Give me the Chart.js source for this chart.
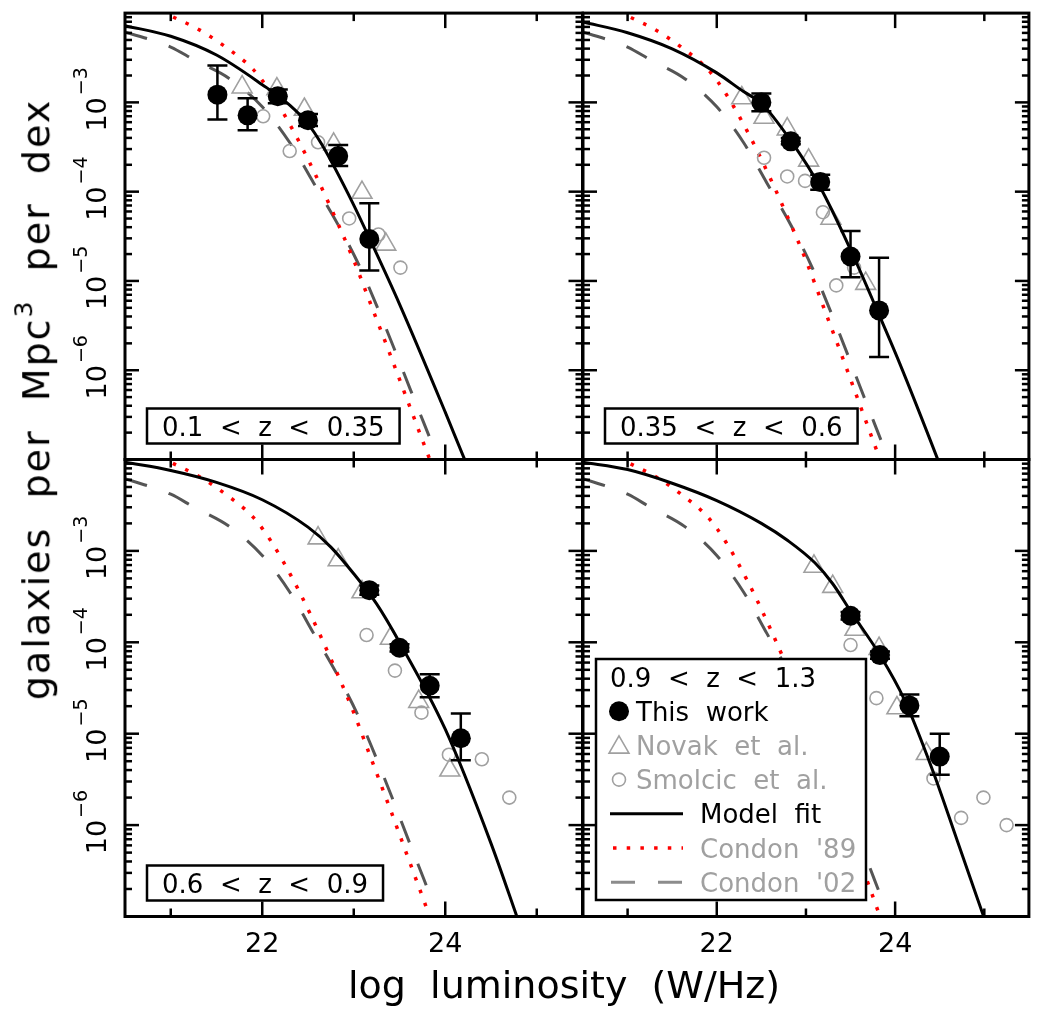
<!DOCTYPE html>
<html>
<head>
<meta charset="utf-8">
<title>Radio luminosity functions in four redshift bins</title>
<script src="https://cdn.jsdelivr.net/npm/chart.js@4.4.1/dist/chart.umd.min.js"></script>
<style>
  html, body { margin:0; padding:0; background:#ffffff; }
  #wrap { position:relative; width:1042px; height:1011px; overflow:hidden; background:#ffffff; }
  #wrap canvas { position:absolute; left:0; top:0; }
  .ttl { position:absolute; font-family:"DejaVu Sans", sans-serif; font-size:38px; line-height:38px; color:#000; white-space:pre; }
  #ytitle { letter-spacing:2px; }
  .sup { font-size:25px; position:relative; top:-17px; }
</style>
</head>
<body>
<div id="wrap">
  <canvas id="p0" width="1042" height="1011"></canvas>
  <canvas id="p1" width="1042" height="1011"></canvas>
  <canvas id="p2" width="1042" height="1011"></canvas>
  <canvas id="p3" width="1042" height="1011"></canvas>
  <div id="xtitle" class="ttl">log  luminosity  (W/Hz)</div>
  <div id="ytitle" class="ttl">galaxies  per  Mpc<span class="sup">3</span>  per  dex</div>
</div>
<script>
// ---------- axes ----------
const xMin = 20.5, xMax = 25.5;
const yMin = 1e-7, yMax = 1e-2;
const xMajorTicks = [22, 24];
const xMinorTicks = [21, 23, 25];
const xTickLabels = ['22', '24'];
const yLabelValues = [1e-3, 1e-4, 1e-5, 1e-6];
const yLabelExponents = ['\u22123', '\u22124', '\u22125', '\u22126'];

// ---------- redshift bins ----------
const binLabels = ['0.1  <  z  <  0.35', '0.35  <  z  <  0.6', '0.6  <  z  <  0.9', '0.9  <  z  <  1.3'];
const seriesNames = ['This work', 'Novak et al.', 'Smolcic et al.', 'Model fit', "Condon '89", "Condon '02"];

// ---------- local luminosity functions (identical in all panels) ----------
const condon89X = [20.5, 21.0, 21.3, 21.6, 21.9, 22.1, 22.34, 22.52, 22.74, 23.0, 23.2, 23.4, 23.58, 23.82, 24.0];
const condon89Y = [1.78e-2, 9.33e-3, 6.61e-3, 4.17e-3, 2.34e-3, 1.26e-3, 4.79e-4, 2.09e-4, 6.92e-5, 1.70e-5, 5.01e-6, 1.48e-6, 4.79e-7, 1.07e-7, 3.55e-8];
const condon02X = [20.5, 21.0, 21.25, 21.65, 22.0, 22.3, 22.56, 22.85, 23.07, 23.36, 23.62, 23.84];
const condon02Y = [6.17e-3, 4.17e-3, 3.02e-3, 1.82e-3, 8.91e-4, 3.55e-4, 1.26e-4, 3.89e-5, 1.41e-5, 2.82e-6, 6.03e-7, 1.66e-7];

// ---------- model fits ----------
const model1X = [20.5, 21.0, 21.5, 22.0, 22.3, 22.5, 22.65, 23.0, 23.17, 23.5, 24.0, 24.2, 24.4];
const model1Y = [7.24e-3, 5.50e-3, 3.39e-3, 1.58e-3, 9.33e-4, 5.75e-4, 3.39e-4, 7.08e-5, 3.02e-5, 5.50e-6, 3.39e-7, 1.07e-7, 3.55e-8];
const model2X = [20.5, 21.0, 21.5, 22.0, 22.3, 22.5, 22.83, 23.16, 23.5, 23.82, 24.05, 24.47, 24.6];
const model2Y = [7.94e-3, 6.03e-3, 3.98e-3, 2.14e-3, 1.32e-3, 9.77e-4, 3.72e-4, 1.12e-4, 2.24e-5, 4.17e-6, 1.20e-6, 1.05e-7, 4.79e-8];
const model3X = [20.5, 21.0, 21.5, 22.0, 22.5, 22.75, 23.0, 23.25, 23.5, 24.0, 24.5, 24.8];
const model3Y = [9.33e-3, 7.59e-3, 5.62e-3, 3.63e-3, 1.82e-3, 1.10e-3, 5.62e-4, 2.63e-4, 1.00e-4, 1.12e-5, 6.31e-7, 8.91e-8];
const model4X = [20.5, 21.0, 21.5, 22.0, 22.5, 22.8, 23.1, 23.3, 23.5, 23.83, 24.1, 24.42, 24.7, 25.0, 25.1];
const model4Y = [9.33e-3, 7.76e-3, 5.50e-3, 3.55e-3, 2.00e-3, 1.29e-3, 7.41e-4, 4.37e-4, 2.19e-4, 7.24e-5, 2.40e-5, 3.98e-6, 6.61e-7, 9.55e-8, 5.01e-8];

// ---------- this work (with error bars) ----------
const work1X = [21.51, 21.84, 22.17, 22.50, 22.83, 23.17];
const work1Y = [1.22e-3, 7.16e-4, 1.17e-3, 6.31e-4, 2.51e-4, 2.95e-5];
const work1Hi = [2.59e-3, 1.11e-3, 1.39e-3, 7.41e-4, 3.34e-4, 7.40e-5];
const work1Lo = [6.41e-4, 4.86e-4, 9.75e-4, 5.43e-4, 1.94e-4, 1.31e-5];
const work2X = [22.50, 22.83, 23.16, 23.50, 23.82];
const work2Y = [1.00e-3, 3.66e-4, 1.28e-4, 1.88e-5, 4.68e-6];
const work2Hi = [1.26e-3, 3.98e-4, 1.55e-4, 3.63e-5, 1.82e-5];
const work2Lo = [7.94e-4, 3.39e-4, 1.05e-4, 1.10e-5, 1.41e-6];
const work3X = [23.17, 23.50, 23.83, 24.17];
const work3Y = [3.72e-4, 8.71e-5, 3.35e-5, 8.91e-6];
const work3Hi = [4.17e-4, 9.55e-5, 4.47e-5, 1.66e-5];
const work3Lo = [3.31e-4, 7.94e-5, 2.51e-5, 5.13e-6];
const work4X = [23.50, 23.83, 24.16, 24.50];
const work4Y = [1.95e-4, 7.24e-5, 2.04e-5, 5.62e-6];
const work4Hi = [2.14e-4, 7.94e-5, 2.69e-5, 1.00e-5];
const work4Lo = [1.78e-4, 6.61e-5, 1.55e-5, 3.55e-6];

// ---------- Novak et al. ----------
const novak1X = [21.78, 22.16, 22.46, 22.78, 23.09, 23.35];
const novak1Y = [1.48e-3, 1.41e-3, 8.32e-4, 3.39e-4, 9.77e-5, 2.57e-5];
const novak2X = [22.28, 22.53, 22.79, 23.03, 23.28, 23.67];
const novak2Y = [1.12e-3, 6.76e-4, 5.01e-4, 2.24e-4, 5.01e-5, 9.33e-6];
const novak3X = [22.61, 22.83, 23.09, 23.40, 23.71, 24.05];
const novak3Y = [1.38e-3, 7.94e-4, 3.55e-4, 1.10e-4, 2.24e-5, 3.98e-6];
const novak4X = [23.09, 23.30, 23.55, 23.82, 24.02, 24.35];
const novak4Y = [6.76e-4, 4.07e-4, 1.38e-4, 8.51e-5, 1.91e-5, 6.03e-6];

// ---------- Smolcic et al. ----------
const smolcic1X = [22.01, 22.30, 22.61, 22.95, 23.27, 23.51];
const smolcic1Y = [6.98e-4, 2.85e-4, 3.57e-4, 5.01e-5, 3.31e-5, 1.41e-5];
const smolcic2X = [22.53, 22.79, 22.99, 23.19, 23.34, 23.54];
const smolcic2Y = [2.40e-4, 1.48e-4, 1.32e-4, 5.89e-5, 8.91e-6, 1.41e-5];
const smolcic3X = [23.14, 23.45, 23.74, 24.04, 24.40, 24.70];
const smolcic3Y = [1.20e-4, 4.90e-5, 1.70e-5, 5.89e-6, 5.25e-6, 2.00e-6];
const smolcic4X = [23.50, 23.79, 24.43, 24.74, 24.99, 25.25];
const smolcic4Y = [9.33e-5, 2.45e-5, 3.24e-6, 1.20e-6, 2.00e-6, 1.00e-6];

// ---------- styling ----------
const FONT = '"DejaVu Sans", sans-serif';
const GREY = '#a0a0a0';
const DASH_GREY = '#555555';
const W = 1042, H = 1011;

const panels = [
  { id:'p0', area:{left:125, top:2.5, right:582.5, bottom:459.5}, yLabels:true,  xLabels:false, legend:false, bin:binLabels[0],
    model:[model1X, model1Y], work:[work1X, work1Y, work1Hi, work1Lo], novak:[novak1X, novak1Y], smolcic:[smolcic1X, smolcic1Y] },
  { id:'p1', area:{left:583, top:2.5, right:1038, bottom:459.5}, yLabels:false, xLabels:false, legend:false, bin:binLabels[1],
    model:[model2X, model2Y], work:[work2X, work2Y, work2Hi, work2Lo], novak:[novak2X, novak2Y], smolcic:[smolcic2X, smolcic2Y] },
  { id:'p2', area:{left:125, top:459.5, right:582.5, bottom:916.5}, yLabels:true,  xLabels:true,  legend:false, bin:binLabels[2],
    model:[model3X, model3Y], work:[work3X, work3Y, work3Hi, work3Lo], novak:[novak3X, novak3Y], smolcic:[smolcic3X, smolcic3Y] },
  { id:'p3', area:{left:583, top:459.5, right:1038, bottom:916.5}, yLabels:false, xLabels:true,  legend:true,  bin:binLabels[3],
    model:[model4X, model4Y], work:[work4X, work4Y, work4Hi, work4Lo], novak:[novak4X, novak4Y], smolcic:[smolcic4X, smolcic4Y] }
];

const pts = (xs, ys) => xs.map((v, i) => ({ x: v, y: ys[i] }));
const spaced = s => s.replace(/ /g, '  ');

function drawTriangle(ctx, cx, cy, r) {
  const s = Math.sin(2 * Math.PI / 3) * r;
  ctx.beginPath();
  ctx.moveTo(cx, cy - r);
  ctx.lineTo(cx + s, cy + r / 2);
  ctx.lineTo(cx - s, cy + r / 2);
  ctx.closePath();
}

function panelPlugin(P) {
  return {
    id: 'panelDecor',
    afterDatasetsDraw(chart) {
      const { ctx, scales: { x, y } } = chart;
      const [wx, , hi, lo] = P.work;
      ctx.save();
      ctx.strokeStyle = '#000';
      ctx.lineWidth = 2.5;
      wx.forEach((v, i) => {
        const px = x.getPixelForValue(v);
        const ph = y.getPixelForValue(hi[i]);
        const pl = y.getPixelForValue(lo[i]);
        ctx.beginPath();
        ctx.moveTo(px, ph); ctx.lineTo(px, pl);
        ctx.moveTo(px - 10, ph); ctx.lineTo(px + 10, ph);
        ctx.moveTo(px - 10, pl); ctx.lineTo(px + 10, pl);
        ctx.stroke();
      });
      ctx.restore();
    },
    afterDraw(chart) {
      const { ctx, chartArea: a, scales: { x, y } } = chart;
      ctx.save();
      const seg = (x1, y1, x2, y2) => { ctx.beginPath(); ctx.moveTo(x1, y1); ctx.lineTo(x2, y2); ctx.stroke(); };
      ctx.strokeStyle = '#000';
      ctx.lineWidth = 2.5;
      xMajorTicks.forEach(v => { const px = x.getPixelForValue(v); seg(px, a.bottom, px, a.bottom - 15); seg(px, a.top, px, a.top + 15); });
      xMinorTicks.forEach(v => { const px = x.getPixelForValue(v); seg(px, a.bottom, px, a.bottom - 8); seg(px, a.top, px, a.top + 8); });
      for (let e = -7; e <= -3; e++) {
        for (let m = 1; m <= 9; m++) {
          const py = y.getPixelForValue(m * Math.pow(10, e));
          const len = m === 1 ? 14 : 7;
          seg(a.left, py, a.left + len, py);
          seg(a.right, py, a.right - len, py);
        }
      }
      ctx.lineWidth = 3;
      ctx.strokeRect(a.left, a.top, a.right - a.left, a.bottom - a.top);

      ctx.fillStyle = '#000';
      if (P.xLabels) {
        ctx.font = '27px ' + FONT;
        ctx.textAlign = 'center';
        ctx.textBaseline = 'alphabetic';
        xMajorTicks.forEach((v, i) => ctx.fillText(xTickLabels[i], x.getPixelForValue(v), a.bottom + 35.5));
      }
      if (P.yLabels) {
        yLabelValues.forEach((v, i) => {
          const py = y.getPixelForValue(v);
          ctx.save();
          ctx.translate(a.left - 19, py);
          ctx.rotate(-Math.PI / 2);
          ctx.textAlign = 'left';
          ctx.textBaseline = 'alphabetic';
          ctx.font = '27px ' + FONT;
          const w10 = ctx.measureText('10').width;
          ctx.font = '19px ' + FONT;
          const ws = ctx.measureText(yLabelExponents[i]).width;
          const start = -(w10 + 2 + ws) / 2 + 3;
          ctx.font = '27px ' + FONT;
          ctx.fillText('10', start, 0);
          ctx.font = '19px ' + FONT;
          ctx.fillText(yLabelExponents[i], start + w10 + 2, -19);
          ctx.restore();
        });
      }

      ctx.font = '26px ' + FONT;
      ctx.textAlign = 'left';
      ctx.textBaseline = 'alphabetic';
      if (!P.legend) {
        const tw = ctx.measureText(P.bin).width;
        const bx = a.left + 22, by = a.bottom - 51, bw = tw + 30, bh = 35;
        ctx.fillStyle = '#fff';
        ctx.fillRect(bx, by, bw, bh);
        ctx.lineWidth = 2.5;
        ctx.strokeRect(bx, by, bw, bh);
        ctx.fillStyle = '#000';
        ctx.fillText(P.bin, bx + 15, by + bh / 2 + 9.5);
      } else {
        const L = a.left + 13, T = a.top + 199.5, R = a.left + 283, B = a.bottom - 16.5;
        ctx.fillStyle = '#fff';
        ctx.fillRect(L, T, R - L, B - T);
        ctx.lineWidth = 2.5;
        ctx.strokeStyle = '#000';
        ctx.strokeRect(L, T, R - L, B - T);
        const row = k => T + 18 + 34.2 * k;
        const base = k => row(k) + 9.5;
        ctx.fillStyle = '#000';
        ctx.fillText(P.bin, L + 14, base(0));
        // This work
        ctx.beginPath(); ctx.arc(L + 23, row(1), 10, 0, 2 * Math.PI); ctx.fillStyle = '#000'; ctx.fill();
        ctx.fillText(spaced(seriesNames[0]), L + 40, base(1));
        // Novak
        ctx.strokeStyle = GREY; ctx.lineWidth = 1.6;
        drawTriangle(ctx, L + 23, row(2) + 2, 11.5); ctx.stroke();
        ctx.fillStyle = GREY;
        ctx.fillText(spaced(seriesNames[1]), L + 40, base(2));
        // Smolcic
        ctx.beginPath(); ctx.arc(L + 23, row(3), 6.5, 0, 2 * Math.PI); ctx.stroke();
        ctx.fillText(spaced(seriesNames[2]), L + 40, base(3));
        // Model fit
        ctx.strokeStyle = '#000'; ctx.lineWidth = 3;
        seg(L + 14, row(4), L + 87, row(4));
        ctx.fillStyle = '#000';
        ctx.fillText(spaced(seriesNames[3]), L + 104, base(4));
        // Condon 89
        ctx.strokeStyle = '#ff0000'; ctx.lineWidth = 3.5; ctx.setLineDash([3.5, 10.2]);
        seg(L + 17, row(5), L + 87, row(5));
        ctx.fillStyle = GREY;
        ctx.fillText(spaced(seriesNames[4]), L + 104, base(5));
        // Condon 02
        ctx.strokeStyle = '#8c8c8c'; ctx.lineWidth = 3; ctx.setLineDash([24, 23]);
        seg(L + 15, row(6), L + 87, row(6));
        ctx.setLineDash([]);
        ctx.fillText(spaced(seriesNames[5]), L + 104, base(6));
      }
      ctx.restore();
    }
  };
}

panels.forEach(P => {
  const datasets = [
    { label: seriesNames[0], data: pts(P.work[0], P.work[1]), showLine: false, pointStyle: 'circle',
      pointRadius: 10, pointHoverRadius: 10, backgroundColor: '#000', borderColor: '#000', pointBorderWidth: 0, order: 0 },
    { label: seriesNames[3], data: pts(P.model[0], P.model[1]), borderColor: '#000', borderWidth: 3,
      pointRadius: 0, pointHoverRadius: 0, cubicInterpolationMode: 'monotone', fill: false, clip: 0, order: 1 },
    { label: seriesNames[1], data: pts(P.novak[0], P.novak[1]), showLine: false, pointStyle: 'triangle',
      pointRadius: 11.5, pointHoverRadius: 11.5, backgroundColor: 'rgba(0,0,0,0)', borderColor: GREY, pointBorderWidth: 1.6, order: 2 },
    { label: seriesNames[2], data: pts(P.smolcic[0], P.smolcic[1]), showLine: false, pointStyle: 'circle',
      pointRadius: 6.5, pointHoverRadius: 6.5, backgroundColor: 'rgba(0,0,0,0)', borderColor: GREY, pointBorderWidth: 1.6, order: 3 },
    { label: seriesNames[4], data: pts(condon89X, condon89Y), borderColor: '#ff0000', borderWidth: 3.5, borderDash: [3.5, 10.2],
      pointRadius: 0, pointHoverRadius: 0, cubicInterpolationMode: 'monotone', fill: false, clip: 0, order: 4 },
    { label: seriesNames[5], data: pts(condon02X, condon02Y), borderColor: DASH_GREY, borderWidth: 3, borderDash: [23, 23],
      pointRadius: 0, pointHoverRadius: 0, cubicInterpolationMode: 'monotone', fill: false, clip: 0, order: 5 }
  ];
  new Chart(document.getElementById(P.id), {
    type: 'line',
    data: { datasets },
    options: {
      responsive: false,
      maintainAspectRatio: false,
      devicePixelRatio: 1,
      animation: false,
      events: [],
      layout: { padding: { left: P.area.left, top: P.area.top, right: W - P.area.right, bottom: H - P.area.bottom } },
      scales: {
        x: { type: 'linear', min: xMin, max: xMax, display: false },
        y: { type: 'logarithmic', min: yMin, max: yMax, display: false }
      },
      plugins: { legend: { display: false }, tooltip: { enabled: false }, title: { display: false } }
    },
    plugins: [panelPlugin(P)]
  });
});

// axis titles (HTML text)
const xt = document.getElementById('xtitle');
xt.style.left = (564 - xt.offsetWidth / 2) + 'px';
xt.style.top = (998 - 32) + 'px';
const yt = document.getElementById('ytitle');
const ycx = 38, ycy = 399;
yt.style.left = (ycx - yt.offsetWidth / 2) + 'px';
yt.style.top = (ycy - yt.offsetHeight / 2) + 'px';
yt.style.transform = 'rotate(-90deg)';
</script>
</body>
</html>
